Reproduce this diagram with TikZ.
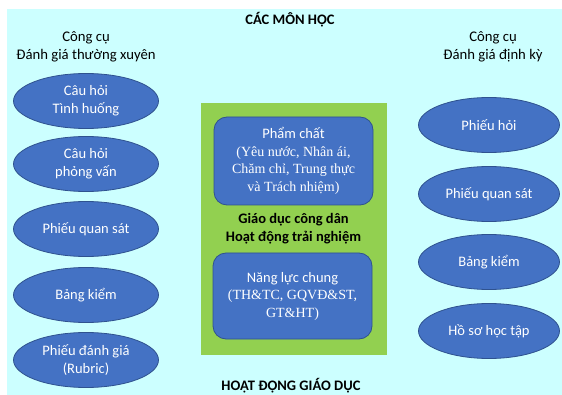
\documentclass[tikz,border=0pt]{standalone}
\usepackage{fontspec}
\setmainfont{Carlito}
\newfontfamily\serifface{Liberation Serif}
\usetikzlibrary{shapes.geometric}
\definecolor{bgcyan}{RGB}{204,255,255}
\definecolor{ellblue}{RGB}{68,114,196}
\definecolor{edgeblue}{RGB}{47,82,143}
\definecolor{boxgreen}{RGB}{146,208,80}
\newcommand{\sertext}{\serifface\fontsize{14}{17.5}\selectfont}
\tikzset{
  tool/.style={ellipse, fill=ellblue, draw=edgeblue, line width=0.8pt, text=white,
    minimum width=145pt, minimum height=55pt, inner sep=0pt, align=center,
    font=\fontsize{14.5}{18}\selectfont},
  rtool/.style={tool, minimum width=141pt},
  core/.style={rectangle, rounded corners=13pt, fill=ellblue, draw=edgeblue, line width=0.8pt,
    text=white, align=center, inner sep=0pt, font=\fontsize{14.5}{17.5}\selectfont},
  head/.style={align=center, font=\fontsize{14.7}{18}\selectfont},
  bhead/.style={align=center, font=\bfseries\fontsize{14.5}{18}\selectfont}
}
\begin{document}
\begin{tikzpicture}[x=1pt,y=-1pt]
\useasboundingbox (0,0) rectangle (562,395);
\fill[bgcyan] (7,9) rectangle (562,395);
\node[bhead] (top) at (290,20) {CÁC MÔN HỌC};
\node[head] (lh) at (86,46.5) {Công cụ\\Đánh giá thường xuyên};
\node[head] (rh) at (493,46.5) {Công cụ\\Đánh giá định kỳ};
% left tools
\node[tool] (l1) at (86,101) {Câu hỏi\\Tình huống};
\node[tool] (l2) at (86,164) {Câu hỏi\\phỏng vấn};
\node[tool] (l3) at (86,229) {Phiếu quan sát};
\node[tool] (l4) at (86,295) {Bảng kiểm};
\node[tool] (l5) at (86,360) {Phiếu đánh giá\\(Rubric)};
% right tools
\node[rtool] (r1) at (489,125) {Phiếu hỏi};
\node[rtool] (r2) at (489,194) {Phiếu quan sát};
\node[rtool] (r3) at (489,262) {Bảng kiểm};
\node[rtool] (r4) at (489,331) {Hồ sơ học tập};
% center
\fill[boxgreen] (201,103) rectangle (387,355);
\node[core, minimum width=159pt, minimum height=88pt] (pc) at (293.5,161)
  {Phẩm chất\\\sertext (Yêu nước, Nhân ái,\\\sertext Chăm chỉ, Trung thực\\\sertext và Trách nhiệm)};
\node[bhead] (mid) at (293.5,229) {Giáo dục công dân\\Hoạt động trải nghiệm};
\node[core, minimum width=159pt, minimum height=86pt] (nl) at (292.5,296)
  {Năng lực chung\\\sertext (TH\&TC, GQVĐ\&ST,\\\sertext GT\&HT)};
\node[bhead] (bot) at (291,386) {HOẠT ĐỘNG GIÁO DỤC};
\end{tikzpicture}
\end{document}
